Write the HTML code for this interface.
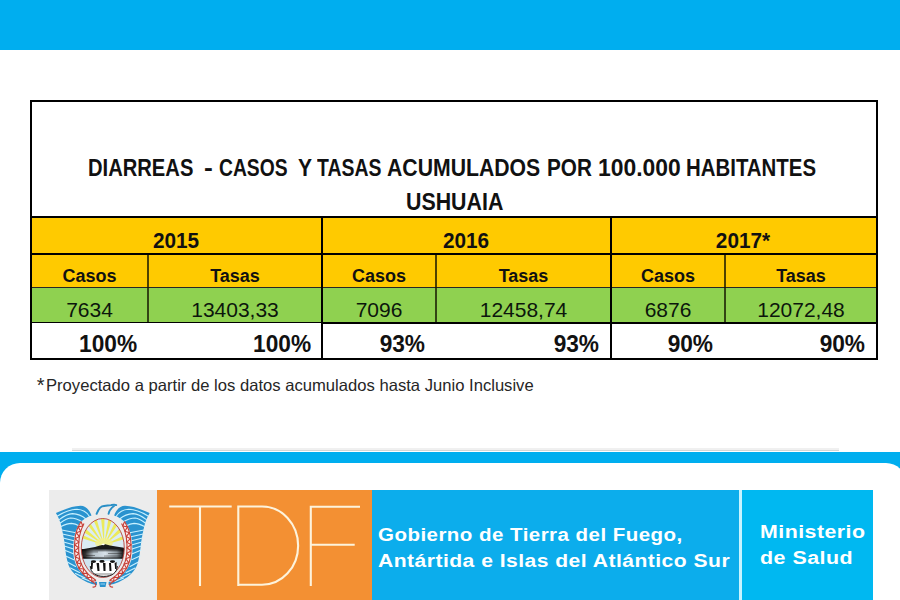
<!DOCTYPE html>
<html><head><meta charset="utf-8">
<style>
*{margin:0;padding:0;box-sizing:border-box}
html,body{width:900px;height:600px;overflow:hidden;background:#fff;font-family:"Liberation Sans",sans-serif}
.a{position:absolute}
#top{left:0;top:0;width:900px;height:50px;background:#00aeef}
.bk{background:#000}
.yl{background:#ffca00}
.gr{background:#8fd150}
.t{position:absolute;white-space:pre;line-height:1;color:#111}
.hb{font-weight:bold;font-size:21.5px;transform:scaleX(0.965)}
.hc{font-weight:bold;font-size:18px}
.dv{font-size:21px;color:#0c160c}
.pc{font-weight:bold;font-size:23.5px;transform:scaleX(0.965);transform-origin:100% 0}
.tw{top:156.5px;font-weight:bold;font-size:23px;transform-origin:0 0}
.sub{background:rgba(20,20,0,.75)}
</style></head><body>
<div id="top" class="a"></div>

<!-- table fills -->
<div class="a yl" style="left:32px;top:218px;width:844px;height:69px"></div>
<div class="a gr" style="left:32px;top:288px;width:844px;height:34px"></div>

<!-- outer border -->
<div class="a bk" style="left:30px;top:100px;width:848px;height:2px"></div>
<div class="a bk" style="left:30px;top:358px;width:848px;height:2px"></div>
<div class="a bk" style="left:30px;top:100px;width:2px;height:260px"></div>
<div class="a bk" style="left:876px;top:100px;width:2px;height:260px"></div>
<!-- horizontal -->
<div class="a bk" style="left:30px;top:216px;width:848px;height:2px"></div>
<div class="a bk" style="left:30px;top:253px;width:848px;height:2px"></div>
<div class="a bk" style="left:30px;top:287px;width:848px;height:1px;opacity:.85"></div>
<div class="a bk" style="left:30px;top:322px;width:292px;height:1px"></div>
<div class="a bk" style="left:322px;top:322px;width:556px;height:2px"></div>
<!-- verticals -->
<div class="a bk" style="left:321px;top:218px;width:2px;height:141px"></div>
<div class="a bk" style="left:610px;top:218px;width:2px;height:141px"></div>
<div class="a sub" style="left:147px;top:255px;width:2px;height:67px"></div>
<div class="a sub" style="left:435px;top:255px;width:2px;height:67px"></div>
<div class="a sub" style="left:724px;top:255px;width:2px;height:67px"></div>

<!-- title -->
<div class="t tw" style="left:88.35px;transform:scaleX(0.877)">DIARREAS</div>
<div class="t tw" style="left:204.05px;transform:scaleX(1.15)">-</div>
<div class="t tw" style="left:218.66px;transform:scaleX(0.8375)">CASOS</div>
<div class="t tw" style="left:297.99px;transform:scaleX(0.914)">Y</div>
<div class="t tw" style="left:317.20px;transform:scaleX(0.845)">TASAS</div>
<div class="t tw" style="left:386.98px;transform:scaleX(0.9226)">ACUMULADOS</div>
<div class="t tw" style="left:546.50px;transform:scaleX(0.9)">POR</div>
<div class="t tw" style="left:597.70px;transform:scaleX(0.995)">100.000</div>
<div class="t tw" style="left:685.70px;transform:scaleX(0.8875)">HABITANTES</div>
<div class="t" id="t2" style="left:405.6px;top:190.5px;font-weight:bold;font-size:23px;transform:scaleX(0.929);transform-origin:0 0">USHUAIA</div>

<!-- years -->
<div class="t hb" style="left:31px;width:290px;top:231px;text-align:center">2015</div>
<div class="t hb" style="left:322px;width:288px;top:231px;text-align:center">2016</div>
<div class="t hb" style="left:611px;width:264px;top:231px;text-align:center">2017*</div>

<!-- headers -->
<div class="t hc" style="left:32px;width:115px;top:267px;text-align:center">Casos</div>
<div class="t hc" style="left:149px;width:172px;top:267px;text-align:center">Tasas</div>
<div class="t hc" style="left:323px;width:112px;top:267px;text-align:center">Casos</div>
<div class="t hc" style="left:437px;width:173px;top:267px;text-align:center">Tasas</div>
<div class="t hc" style="left:612px;width:112px;top:267px;text-align:center">Casos</div>
<div class="t hc" style="left:726px;width:150px;top:267px;text-align:center">Tasas</div>

<!-- data -->
<div class="t dv" style="left:32px;width:115px;top:299px;text-align:center">7634</div>
<div class="t dv" style="left:149px;width:172px;top:299px;text-align:center">13403,33</div>
<div class="t dv" style="left:323px;width:112px;top:299px;text-align:center">7096</div>
<div class="t dv" style="left:437px;width:173px;top:299px;text-align:center">12458,74</div>
<div class="t dv" style="left:612px;width:112px;top:299px;text-align:center">6876</div>
<div class="t dv" style="left:726px;width:150px;top:299px;text-align:center">12072,48</div>

<!-- percents -->
<div class="t pc" style="right:762.5px;top:333px">100%</div>
<div class="t pc" style="right:588.5px;top:333px">100%</div>
<div class="t pc" style="right:474.5px;top:333px">93%</div>
<div class="t pc" style="right:300.5px;top:333px">93%</div>
<div class="t pc" style="right:186.5px;top:333px">90%</div>
<div class="t pc" style="right:34.5px;top:333px">90%</div>

<!-- footnote -->
<div class="t" style="left:36.7px;top:375px;font-size:20px;color:#262626">*</div>
<div class="t" id="fn" style="left:45.7px;top:377px;font-size:16.5px;color:#262626;transform:scaleX(1.007);transform-origin:0 0">Proyectado a partir de los datos acumulados hasta Junio Inclusive</div>

<!-- footer -->
<div class="a" style="left:72px;top:448px;width:767px;height:2px;background:#f0f0f0"></div><div class="a" style="left:72px;top:450px;width:767px;height:1px;background:#d4d6d6"></div>
<div class="a" style="left:0;top:452px;width:900px;height:148px;background:#00aeef"></div>
<div class="a" style="left:0;top:463px;width:906px;height:160px;background:#fff;border-radius:20px"></div>

<svg class="a" style="left:49px;top:490px" width="108" height="110" viewBox="49 490 108 110">
<defs>
<clipPath id="inner"><ellipse cx="102.8" cy="548" rx="21.5" ry="29.5"/></clipPath>
<linearGradient id="seax" x1="0" y1="0" x2="1" y2="0">
<stop offset="0" stop-color="#0a0a0a"/><stop offset=".12" stop-color="#333"/><stop offset=".3" stop-color="#b8c4cc"/><stop offset=".55" stop-color="#d8e2ea"/><stop offset=".8" stop-color="#8a949a"/><stop offset=".93" stop-color="#222"/><stop offset="1" stop-color="#0a0a0a"/>
</linearGradient>
<linearGradient id="seay" x1="0" y1="0" x2="0" y2="1">
<stop offset="0" stop-color="#000" stop-opacity=".9"/><stop offset=".12" stop-color="#000" stop-opacity=".5"/><stop offset=".3" stop-color="#000" stop-opacity="0"/><stop offset=".75" stop-color="#000" stop-opacity="0"/><stop offset=".9" stop-color="#000" stop-opacity=".6"/><stop offset="1" stop-color="#000" stop-opacity=".95"/>
</linearGradient>
<g id="lw">
<path fill="#2a93cf" d="M55.9,513 C63,510 72,506 80.6,505.8 C86,506 89.5,510 91.5,515.5 C87,517 83,519.5 80,523 C77,527 75.5,531 74.5,536 C73.3,542 73,548 73.3,554 C73.8,561 76.5,567 81,572.5 C85,576.5 90,579.5 97,582 L97,585 C90,584 84,581 78,577 C73,573 70,569 68.5,565 C66.5,559 65.5,552 64.8,545 C63.8,537 62,529 60.5,523 C59.5,519.5 57.5,516 55.9,513 Z"/>
<g stroke="#c9f1ff" stroke-width="1.1" fill="none" stroke-linecap="round">
<path d="M57.5,516 C64,512 71,509.3 77,509.3 C83,509.6 87,512.5 89.5,516.5"/>
<path d="M59.2,519.6 C63.5,516.3 68,513.8 72.5,513.6 C78,513.8 82.5,516 86,519"/>
<path d="M60.3,523 C63.5,520.5 67,518.3 70.5,518 C75,518 79,519.8 82.5,522"/>
<path d="M61,526.5 C64.5,524.8 68,523.4 71.5,523.4 C74.5,523.6 77,524.6 79.5,526"/>
<path d="M61.6,530 L77.3,533"/>
<path d="M62.3,534 L76,537"/>
<path d="M63,538 L75,541"/>
<path d="M63.6,542 L74.2,545"/>
<path d="M64.2,546 L73.6,549"/>
<path d="M64.8,550.2 L73.3,553.7"/>
<path d="M65.6,556 L73.9,559.7"/>
<path d="M67.2,562 L75.6,566.5"/>
<path d="M70.5,568 L79.5,572.5"/>
<path d="M75.5,573.5 L85,578"/>
<path d="M82,578 L91,581.4"/>
</g>
</g>
</defs>
<rect x="49" y="490" width="108" height="110" fill="#ececec"/>
<use href="#lw"/>
<use href="#lw" transform="translate(205.6,0) scale(-1,1)"/>
<!-- eagle head -->
<g stroke="#2a8fc6" stroke-width="1.9" fill="none" stroke-linecap="round">
<path d="M96.6,513.8 C98,510 99.5,507.5 102,506.4 C104.5,505.5 108,505.6 111,505.1 C113,504.7 114.5,504.2 116.2,505.1"/>
<path d="M114,506 C111.5,507.5 109.5,510 108.6,513.8"/>
</g>
<!-- inner -->
<ellipse cx="102.8" cy="548" rx="21.5" ry="29.5" fill="#dbecf4"/>
<g clip-path="url(#inner)">
<g fill="#ecea5a">
<polygon points="104,545 82,531 83.5,527"/>
<polygon points="104,545 86,523 89,521"/>
<polygon points="104,545 93,519 96.5,518.5"/>
<polygon points="104,545 101,518 104.5,518"/>
<polygon points="104,545 108.5,518.5 112,519.5"/>
<polygon points="104,545 115.5,521 118.5,523.5"/>
<polygon points="104,545 121,527 123,530.5"/>
<polygon points="104,545 124,535.5 125,539"/>
<polygon points="104,545 81,538 81.5,534.5"/>
</g>
<ellipse cx="104" cy="543" rx="9" ry="5" fill="#f3f08a" opacity=".8"/>
<polygon points="80,549.6 88,548.2 95,547 100,545.4 105.3,544.2 110,545.4 116,546.6 124,547.7 125,549.6" fill="#1a1a1a"/>
<polygon points="101.2,544.8 103,543.6 105,544 103.5,545.2" fill="#fff"/>
<rect x="80" y="549.2" width="46" height="9.6" fill="url(#seax)"/>
<rect x="80" y="549.2" width="46" height="9.6" fill="url(#seay)"/>
<g stroke="#1a1a1a" stroke-width=".6" opacity=".7"><path d="M84,552 H98 M108,553.5 H122 M86,555.5 H95 M104,556 H120"/></g>
<rect x="80" y="558.8" width="46" height="20" fill="#cfe4f0"/>
</g>
<ellipse cx="102.8" cy="548" rx="21.5" ry="29.5" fill="none" stroke="#b8423a" stroke-width="0.9"/>
<!-- laurel -->
<path d="M81.0,521.5 L79.6,524.2 L78.1,526.9 L77.0,529.7 L76.2,532.7 L75.4,535.6 L75.1,538.7 L74.8,541.7 L74.5,544.8 L74.6,547.8 L74.6,550.9 L74.8,553.9 L75.3,556.9 L75.8,559.9 L76.7,562.8 L77.9,565.7 L79.0,568.5 L80.9,570.9 L82.7,573.4 L84.8,575.7 L87.1,577.7 L89.4,579.7 L91.9,581.4 L94.5,583.0 L96.0,580.5 L93.8,578.8 L91.6,577.1 L89.5,575.3 L87.4,573.4 L85.7,571.2 L84.0,569.0 L82.5,566.6 L81.5,564.1 L80.4,561.5 L79.7,558.8 L79.3,556.0 L78.8,553.3 L78.7,550.5 L78.7,547.7 L78.6,544.9 L78.9,542.1 L79.1,539.4 L79.4,536.6 L80.1,533.9 L80.7,531.2 L81.7,528.6 L82.8,526.0 L84.0,523.5 Z" fill="#fbeeee"/>
<path d="M124.6,521.5 L126.0,524.2 L127.5,526.9 L128.6,529.7 L129.4,532.7 L130.2,535.6 L130.5,538.7 L130.8,541.7 L131.1,544.8 L131.0,547.8 L131.0,550.9 L130.8,553.9 L130.3,556.9 L129.8,559.9 L128.9,562.8 L127.7,565.7 L126.6,568.5 L124.7,570.9 L122.9,573.4 L120.8,575.7 L118.5,577.7 L116.2,579.7 L113.7,581.4 L111.1,583.0 L109.6,580.5 L111.8,578.8 L114.0,577.1 L116.1,575.3 L118.2,573.4 L119.9,571.2 L121.6,569.0 L123.1,566.6 L124.1,564.1 L125.2,561.5 L125.9,558.8 L126.3,556.0 L126.8,553.3 L126.9,550.5 L126.9,547.7 L127.0,544.9 L126.7,542.1 L126.5,539.4 L126.2,536.6 L125.5,533.9 L124.9,531.2 L123.9,528.6 L122.8,526.0 L121.6,523.5 Z" fill="#fbeeee"/>
<g fill="none" stroke="#c53f37" stroke-width="1.1" stroke-linejoin="round">
<path d="M81.0,521.5 L79.6,524.2 L78.1,526.9 L77.0,529.7 L76.2,532.7 L75.4,535.6 L75.1,538.7 L74.8,541.7 L74.5,544.8 L74.6,547.8 L74.6,550.9 L74.8,553.9 L75.3,556.9 L75.8,559.9 L76.7,562.8 L77.9,565.7 L79.0,568.5 L80.9,570.9 L82.7,573.4 L84.8,575.7 L87.1,577.7 L89.4,579.7 L91.9,581.4 L94.5,583.0"/>
<path d="M124.6,521.5 L126.0,524.2 L127.5,526.9 L128.6,529.7 L129.4,532.7 L130.2,535.6 L130.5,538.7 L130.8,541.7 L131.1,544.8 L131.0,547.8 L131.0,550.9 L130.8,553.9 L130.3,556.9 L129.8,559.9 L128.9,562.8 L127.7,565.7 L126.6,568.5 L124.7,570.9 L122.9,573.4 L120.8,575.7 L118.5,577.7 L116.2,579.7 L113.7,581.4 L111.1,583.0"/>
<path d="M84.0,523.5 L82.8,526.0 L81.7,528.6 L80.7,531.2 L80.1,533.9 L79.4,536.6 L79.1,539.4 L78.9,542.1 L78.6,544.9 L78.7,547.7 L78.7,550.5 L78.8,553.3 L79.3,556.0 L79.7,558.8 L80.4,561.5 L81.5,564.1 L82.5,566.6 L84.0,569.0 L85.7,571.2 L87.4,573.4 L89.5,575.3 L91.6,577.1 L93.8,578.8 L96.0,580.5"/>
<path d="M121.6,523.5 L122.8,526.0 L123.9,528.6 L124.9,531.2 L125.5,533.9 L126.2,536.6 L126.5,539.4 L126.7,542.1 L127.0,544.9 L126.9,547.7 L126.9,550.5 L126.8,553.3 L126.3,556.0 L125.9,558.8 L125.2,561.5 L124.1,564.1 L123.1,566.6 L121.6,569.0 L119.9,571.2 L118.2,573.4 L116.1,575.3 L114.0,577.1 L111.8,578.8 L109.6,580.5"/>
<path d="M81.0,521.5 L82.8,526.0 L78.1,526.9 L80.7,531.2 L76.2,532.7 L79.4,536.6 L75.1,538.7 L78.9,542.1 L74.5,544.8 L78.7,547.7 L74.6,550.9 L78.8,553.3 L75.3,556.9 L79.7,558.8 L76.7,562.8 L81.5,564.1 L79.0,568.5 L84.0,569.0 L82.7,573.4 L87.4,573.4 L87.1,577.7 L91.6,577.1 L91.9,581.4 L96.0,580.5"/>
<path d="M124.6,521.5 L122.8,526.0 L127.5,526.9 L124.9,531.2 L129.4,532.7 L126.2,536.6 L130.5,538.7 L126.7,542.1 L131.1,544.8 L126.9,547.7 L131.0,550.9 L126.8,553.3 L130.3,556.9 L125.9,558.8 L128.9,562.8 L124.1,564.1 L126.6,568.5 L121.6,569.0 L122.9,573.4 L118.2,573.4 L118.5,577.7 L114.0,577.1 L113.7,581.4 L109.6,580.5"/>
<path d="M94.5,583 C97,585 96,587.5 92.5,587"/>
<path d="M111.1,583 C108.6,585 109.6,587.5 113.1,587"/>
</g>
<!-- penguins -->
<path d="M90,566.5 C90,563 91.5,561 94,561 L113,561 C116,561 117.6,563 117.6,566.5 C117.6,572.5 112,576.4 103.8,576.4 C95.6,576.4 90,572.5 90,566.5 Z" fill="#fff"/>
<path d="M90.3,566 C90.3,572.5 95.6,576.4 103.8,576.4 C112,576.4 117.3,572.5 117.3,566" fill="none" stroke="#111" stroke-width="1"/>
<g fill="#111">
<ellipse cx="93.5" cy="561.6" rx="2.6" ry="1.4"/>
<ellipse cx="102" cy="561.4" rx="2.6" ry="1.4"/>
<ellipse cx="112.5" cy="561.6" rx="2.6" ry="1.4"/>
<path d="M91,562 L91,569 L92.5,569 L93,563 Z"/>
<path d="M96.5,563 L97.5,571 L99.5,571 L99,563 Z"/>
<path d="M103,563 L103.5,571 L105.5,571 L105.5,563 Z"/>
<path d="M109,563 L109.5,571 L111.5,571 L111,563 Z"/>
<path d="M116.6,562 L116.6,569 L115.1,569 L114.6,563 Z"/>
</g>
<path d="M95,574 H112" stroke="#333" stroke-width="0.6"/>
<!-- bottom blue -->
<path d="M99,582 L106.5,582 L105.5,587 L100,587 Z" fill="#2a93cf"/>
<path d="M100.5,584 H105" stroke="#c9f1ff" stroke-width=".7"/>
</svg>
<div class="a" style="left:157px;top:490px;width:215px;height:110px;background:#f39033"></div>
<svg class="a" style="left:157px;top:490px" width="215" height="110" viewBox="157 490 215 110">
<g stroke="#fdf3dc" stroke-width="2.1" fill="none">
<path d="M169.2,506.5 H231.7 M200,506.5 V586"/>
<path d="M238.3,586 V506.5 H262 A36,39 0 0 1 262,584.8 H238.3"/>
<path d="M360,506.7 H310.8 V586 M310.8,544.7 H354.7"/>
</g>
</svg>
<div class="a" style="left:372px;top:490px;width:367px;height:110px;background:#0cadec"></div>
<div class="a" style="left:739px;top:490px;width:3px;height:110px;background:#c8f4ff"></div>
<div class="a" style="left:742px;top:490px;width:131px;height:110px;background:#00b8f1"></div>
<div class="t" id="g1" style="left:378px;top:526px;font-size:18px;font-weight:bold;color:#fff;letter-spacing:0.4px;transform:scaleX(1.14);transform-origin:0 0">Gobierno de Tierra del Fuego,</div>
<div class="t" id="g2" style="left:378px;top:552px;font-size:18px;font-weight:bold;color:#fff;letter-spacing:0.4px;transform:scaleX(1.172);transform-origin:0 0">Antártida e Islas del Atlántico Sur</div>
<div class="t" id="m1" style="left:760px;top:523px;font-size:18px;font-weight:bold;color:#fff;letter-spacing:0.4px;transform:scaleX(1.185);transform-origin:0 0">Ministerio</div>
<div class="t" id="m2" style="left:760px;top:549px;font-size:18px;font-weight:bold;color:#fff;letter-spacing:0.4px;transform:scaleX(1.19);transform-origin:0 0">de Salud</div>

</body></html>
